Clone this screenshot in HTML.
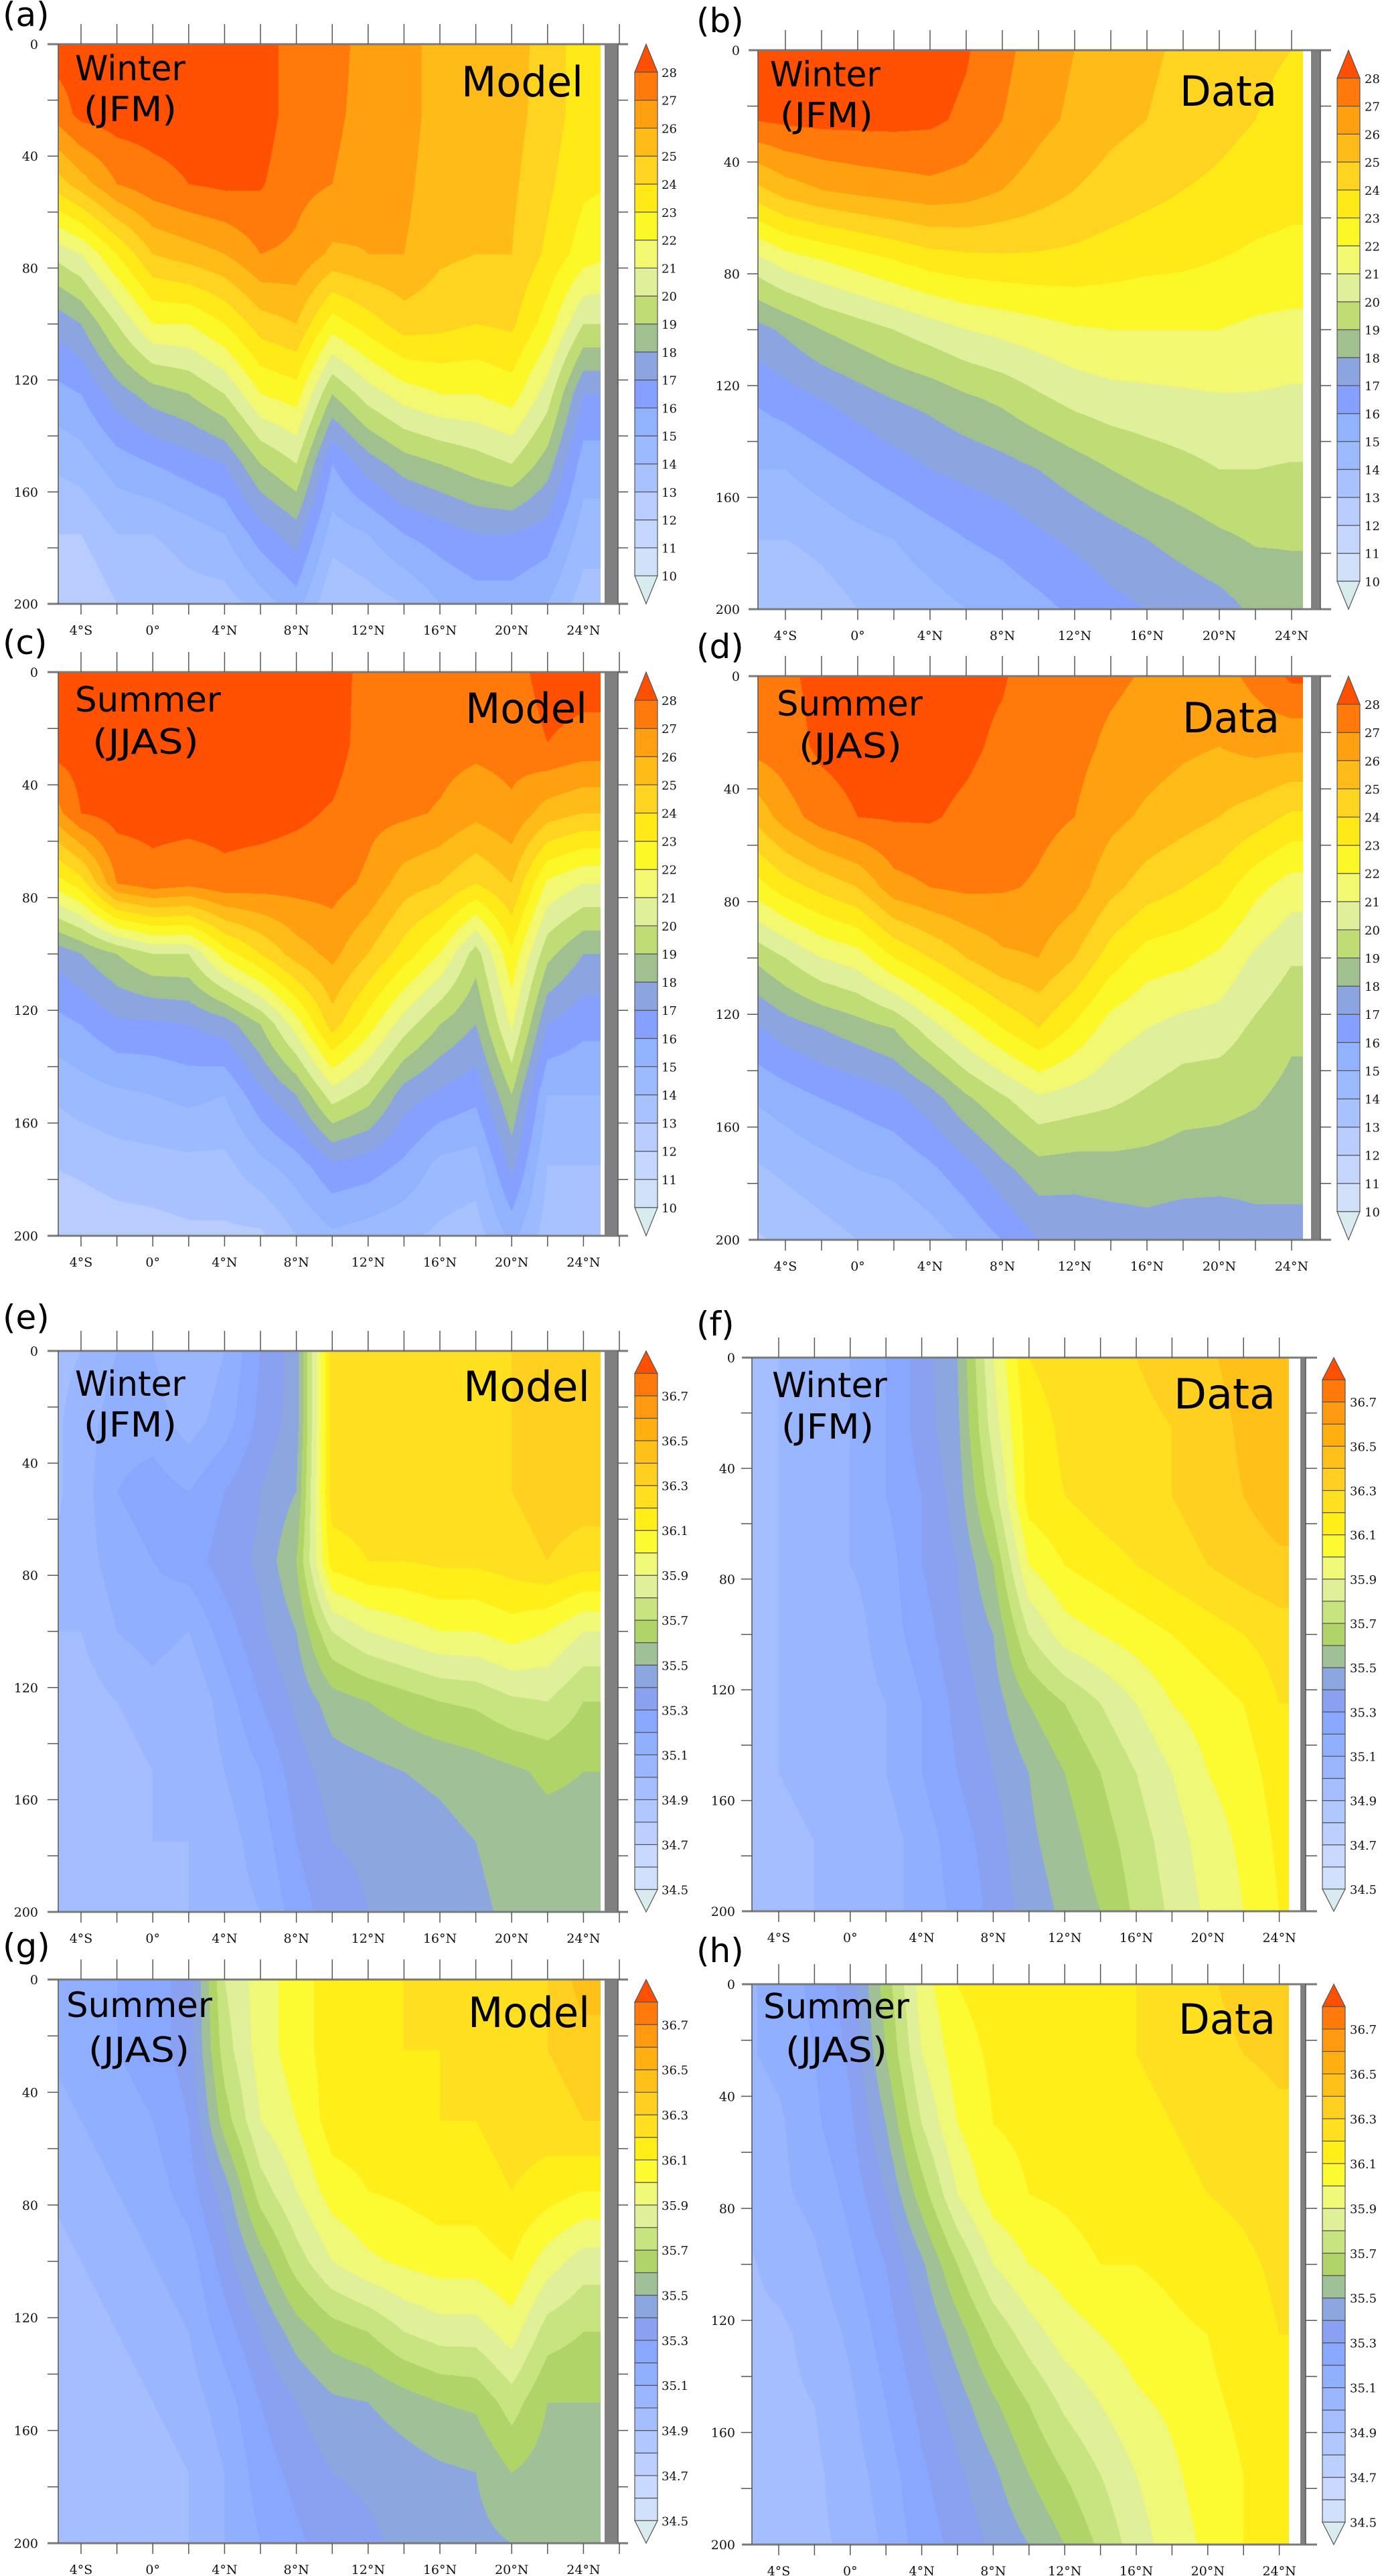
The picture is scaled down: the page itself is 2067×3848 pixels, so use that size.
<!DOCTYPE html>
<html><head><meta charset="utf-8"><title>Temperature and salinity sections</title>
<style>
html,body{margin:0;padding:0;background:#fff;}
#wrap{position:relative;width:2067px;height:3848px;overflow:hidden;background:#fff;}
canvas{position:absolute;}
#ov{position:absolute;left:0;top:0;}
</style></head>
<body>
<div id="wrap">
<svg id="ov" width="2067" height="3848" xmlns="http://www.w3.org/2000/svg"></svg>
</div>
<script>
// ===== data =====
const latNodes = [-6,-4,-2,0,2,4,6,8,10,12,14,16,18,20,22,24,26];
const depthNodes = [0,25,50,75,100,125,150,175,200];
const depthTicks = [0,40,80,120,160,200];
const latLabels = ["4°S","0°","4°N","8°N","12°N","16°N","20°N","24°N"];
const latLabelVals = [-4,0,4,8,12,16,20,24];
const tempLevels = [10,11,12,13,14,15,16,17,18,19,20,21,22,23,24,25,26,27,28];
const saltLabels = ["34.5","34.7","34.9","35.1","35.3","35.5","35.7","35.9","36.1","36.3","36.5","36.7"];
const tempPalette = ['#d8ecf0','#cfe0f8','#c4d6ff','#b8ccff','#a8c2ff','#9cbaff','#90b2ff','#86a0ff','#8ca4e0','#a0c090','#c0dc74','#e0f09a','#f2f870','#fcf828','#ffea18','#ffd420','#ffbc18','#ffa010','#ff7a0a','#ff4f00'];
const saltPalette = ['#d8ecf0','#d0e0fa','#c8d8ff','#bccfff','#b0c8ff','#a4beff','#9ab6ff','#90b0ff','#88a8ff','#8aa0f0','#8ca6e0','#a0c098','#b0d468','#c8e480','#e0f098','#f0f878','#fcfa30','#ffee18','#ffe020','#ffd020','#ffc018','#ffb010','#ff9a10','#ff7a0a','#ff4f00'];

// each row = one latitude node, values at depthNodes
const tempModelWinter = [
[28.5,27,24,20,17,15.5,14,13,12],
[28.5,28.3,25.5,21,18,16,14.5,13,12],
[28.5,28.5,27,23,20,17.5,15.5,14,13],
[28.5,28.5,27.6,25,22,18.5,16,14,13],
[28.5,28.5,28,25.5,22,19,16.5,14.5,13.5],
[28.5,28.5,28.2,26,23,20,17,15,13.5],
[28.5,28.5,28.1,27,24.5,22,19,16.5,14.5],
[27.5,27.5,27.3,26.8,25,22.5,20,17.5,15.5],
[27.5,27.3,27,25.8,22.5,19,16,14.5,13],
[26.5,26.5,26.3,26,23.5,20.5,17.5,15,13.5],
[26.5,26.5,26.3,26,24.5,21.5,18.5,16,14],
[25.5,25.5,25.3,25.2,24.3,22,19,16.5,15],
[25.5,25.5,25.3,25,24,22,19.5,17,15.5],
[25.5,25.4,25.2,25,24.2,22.5,20,17,15.5],
[24.5,24.5,24.2,23.8,22.5,20.5,18.5,16.5,15],
[23.5,23.5,23.2,22.5,20,17,15.5,14.5,13.5],
[23.5,23.5,23,22,20,17,15.5,14.5,13.5]];
const tempDataWinter = [
[28.5,28,24.5,20.5,17.5,16,15,14,13],
[28.5,28.2,25.5,21.5,18.2,16.5,15,14,13],
[28.5,28.3,26,22,19,17,15.5,14.3,13.5],
[28.5,28.3,26.3,22.5,19.5,17.5,16,14.7,14],
[28.5,28.3,26.5,23,20,18,16.5,15,14.3],
[28.5,28.2,26.7,23.5,20.5,18.3,17,15.5,14.6],
[28.1,27.8,26.5,23.7,21,18.8,17.3,16,15],
[27.3,27,26,23.8,21.3,19.2,17.6,16.3,15.3],
[26.5,26.3,25.5,23.8,21.6,19.8,18,16.8,15.7],
[26,25.8,25,23.7,21.9,20.3,18.5,17.2,16.2],
[25.5,25.3,24.6,23.5,22,20.6,19,17.6,16.7],
[25.2,25,24.3,23.3,22,20.7,19.4,18,17],
[24.8,24.6,24,23.2,22,20.8,19.7,18.4,17.3],
[24.5,24.3,23.8,23,22,20.9,20,18.8,17.6],
[24.2,24,23.5,22.8,21.8,20.9,20,19.1,18.2],
[24,23.7,23.3,22.7,21.7,20.8,19.9,19.1,18.5],
[24,23.7,23.3,22.7,21.7,20.8,19.9,19.1,18.5]];
const tempModelSummer = [
[28.5,28.5,26,22,17,15.5,14,13,12],
[28.5,28.5,28,23.5,18,16,14.5,13.2,12.3],
[28.5,28.5,28.4,27,19,16.8,14.8,13.5,12.5],
[28.5,28.5,28.4,27.6,20,16.8,15,13.6,12.6],
[28.5,28.5,28.4,27.3,20,17,15.3,13.7,12.8],
[28.5,28.5,28.4,27.7,22.5,17.5,15,13.7,12.8],
[28.5,28.5,28.4,27.5,24,19,16.7,14.7,12.8],
[28.5,28.5,28.2,27.4,25.5,21.5,18,15.5,14],
[28.5,28.5,27.9,27.4,26.3,24.5,20.5,16.8,14.8],
[27.6,27.5,27.3,26.8,25,22.5,19.5,16.5,14.5],
[27.6,27.5,27.2,25.5,23.5,20.5,17.5,15.8,14.2],
[27.6,27.4,26.9,25,22,19,16.8,14.7,13.8],
[27.6,27.3,26.3,24,19.5,18,16.3,14.5,13.5],
[27.6,27.4,26.8,25,22.8,21.2,19,17.3,15.3],
[28.4,28,25.5,21.8,19.3,17,15,14,13.5],
[28.4,27.7,25,21,18,16.3,15,14,13.5],
[28.4,27.7,25,21,18,16.3,15,14,13.5]];
const tempDataSummer = [
[27.6,27.3,25,22.3,19,16.7,15,13.8,12.8],
[27.8,27.6,26.5,23.5,20,17.5,15.5,14.2,13.2],
[28.3,28.2,27.5,24.3,21,18,16,14.6,13.6],
[28.5,28.4,28,25,21.5,18.5,16.3,15,14],
[28.5,28.4,28.1,26.6,23,19,16.7,15.2,14],
[28.5,28.4,28.1,27,24,20.5,17.5,15.8,14.5],
[28.3,28.2,27.8,27.2,25,21.8,18.8,16.6,15.2],
[28.1,27.8,27.5,27.1,25.8,23,19.8,17.7,16],
[27.5,27.3,27.2,26.9,26,24,20.8,18.6,17],
[27.4,27.3,27,26.5,25,22.8,20.5,18.5,17.1],
[27.2,26.8,26.3,25.3,23.5,21.5,20.2,18.6,17.3],
[26.9,26.5,25.8,24.5,22.5,21,19.8,18.6,17.5],
[26.7,26.2,25.4,24,22.3,20.6,19.4,18.5,17.3],
[26.6,26,25,23.5,21.8,20.5,19.3,18.5,17.2],
[27.3,26.3,24.5,22.3,20.8,19.8,19.1,18.4,17.6],
[28.2,26.2,23.8,21.5,20.1,19.2,18.7,18.3,17.7],
[28.2,26.2,23.8,21.5,20.1,19.2,18.7,18.3,17.7]];
const saltModelWinter = [
[34.95,34.95,34.95,35.0,35.0,34.95,34.9,34.9,34.9],
[35.0,35.05,35.05,35.05,35.0,34.95,34.95,34.9,34.9],
[35.1,35.15,35.2,35.15,35.1,35.0,34.95,34.95,34.95],
[35.1,35.15,35.25,35.2,35.15,35.05,35.0,35.0,34.95],
[35.0,35.05,35.2,35.25,35.1,35.0,35.0,35.0,35.0],
[35.1,35.15,35.3,35.35,35.25,35.15,35.1,35.05,35.05],
[35.3,35.33,35.4,35.42,35.38,35.3,35.2,35.15,35.1],
[35.45,35.45,35.5,35.6,35.5,35.42,35.35,35.3,35.25],
[36.25,36.25,36.25,36.15,35.8,35.55,35.45,35.4,35.35],
[36.25,36.25,36.25,36.2,35.9,35.6,35.47,35.42,35.4],
[36.25,36.25,36.25,36.2,35.95,35.65,35.5,35.45,35.42],
[36.25,36.25,36.25,36.22,36.0,35.7,35.52,35.47,35.45],
[36.25,36.25,36.25,36.22,36.0,35.72,35.55,35.5,35.48],
[36.3,36.3,36.3,36.25,36.05,35.78,35.58,35.54,35.52],
[36.35,36.35,36.35,36.3,36.0,35.8,35.62,35.56,35.53],
[36.35,36.35,36.35,36.25,35.9,35.7,35.6,35.56,35.53],
[36.35,36.35,36.35,36.25,35.9,35.7,35.6,35.56,35.53]];
const saltDataWinter = [
[34.95,34.95,34.95,34.95,34.95,34.95,34.95,34.95,34.95],
[35.0,35.0,35.0,35.0,35.0,35.0,35.0,34.95,34.95],
[35.05,35.05,35.05,35.05,35.05,35.05,35.05,35.0,35.0],
[35.1,35.1,35.1,35.1,35.05,35.05,35.05,35.05,35.0],
[35.2,35.2,35.2,35.15,35.15,35.1,35.1,35.05,35.05],
[35.35,35.35,35.3,35.3,35.25,35.2,35.2,35.15,35.15],
[35.5,35.48,35.45,35.4,35.38,35.33,35.3,35.25,35.22],
[35.9,35.85,35.75,35.6,35.5,35.45,35.4,35.35,35.33],
[36.2,36.15,36.15,36.0,35.8,35.6,35.5,35.48,35.45],
[36.25,36.22,36.2,36.1,35.95,35.7,35.6,35.55,35.52],
[36.28,36.25,36.25,36.15,36.0,35.8,35.7,35.65,35.6],
[36.3,36.28,36.28,36.2,36.05,35.9,35.8,35.75,35.72],
[36.33,36.3,36.3,36.25,36.1,36.0,35.9,35.85,35.82],
[36.38,36.35,36.35,36.3,36.15,36.05,36.0,35.95,35.92],
[36.45,36.42,36.4,36.35,36.2,36.1,36.05,36.02,36.0],
[36.5,36.45,36.45,36.38,36.25,36.2,36.15,36.12,36.1],
[36.5,36.45,36.45,36.38,36.25,36.2,36.15,36.12,36.1]];
const saltModelSummer = [
[35.1,35.1,35.05,35.0,34.95,34.9,34.9,34.9,34.9],
[35.15,35.15,35.1,35.05,35.0,34.95,34.95,34.9,34.9],
[35.2,35.2,35.15,35.1,35.05,35.0,34.95,34.95,34.95],
[35.25,35.25,35.2,35.15,35.1,35.05,35.0,34.95,34.95],
[35.35,35.35,35.3,35.25,35.15,35.1,35.05,35.0,35.0],
[35.8,35.75,35.65,35.45,35.35,35.25,35.15,35.1,35.1],
[35.95,35.95,35.9,35.75,35.55,35.4,35.3,35.25,35.2],
[36.05,36.05,36.0,35.9,35.75,35.55,35.4,35.33,35.28],
[36.15,36.15,36.15,36.05,35.9,35.65,35.48,35.4,35.35],
[36.15,36.15,36.15,36.1,35.98,35.7,35.5,35.42,35.38],
[36.2,36.2,36.15,36.12,36.02,35.8,35.55,35.45,35.42],
[36.2,36.2,36.2,36.15,36.05,35.85,35.6,35.48,35.45],
[36.25,36.25,36.2,36.15,36.05,35.85,35.62,35.5,35.47],
[36.25,36.25,36.25,36.2,36.1,35.95,35.75,35.6,35.5],
[36.3,36.3,36.25,36.15,35.95,35.75,35.6,35.55,35.52],
[36.45,36.35,36.3,36.1,35.85,35.7,35.6,35.55,35.52],
[36.45,36.35,36.3,36.1,35.85,35.7,35.6,35.55,35.52]];
const saltDataSummer = [
[35.08,35.08,35.03,35.03,34.98,34.98,34.93,34.93,34.93],
[35.13,35.13,35.08,35.08,35.03,34.98,34.98,34.93,34.93],
[35.23,35.2,35.18,35.13,35.08,35.03,35.0,34.98,34.98],
[35.35,35.32,35.28,35.23,35.18,35.12,35.08,35.05,35.02],
[35.65,35.6,35.5,35.4,35.3,35.25,35.2,35.15,35.12],
[35.95,35.9,35.8,35.65,35.48,35.4,35.33,35.28,35.25],
[36.1,36.05,36.0,35.9,35.7,35.55,35.45,35.38,35.33],
[36.15,36.12,36.1,36.05,35.9,35.72,35.58,35.48,35.42],
[36.15,36.15,36.12,36.1,36.0,35.85,35.7,35.6,35.5],
[36.18,36.15,36.15,36.12,36.05,35.95,35.82,35.7,35.6],
[36.2,36.18,36.15,36.15,36.1,36.0,35.9,35.8,35.72],
[36.2,36.2,36.18,36.15,36.1,36.05,35.98,35.9,35.85],
[36.25,36.22,36.2,36.18,36.12,36.08,36.02,35.98,35.95],
[36.28,36.25,36.22,36.2,36.15,36.1,36.08,36.05,36.02],
[36.35,36.3,36.25,36.22,36.18,36.15,36.12,36.1,36.1],
[36.38,36.32,36.28,36.25,36.22,36.2,36.18,36.15,36.15],
[36.38,36.32,36.28,36.25,36.22,36.2,36.18,36.15,36.15]];

// ===== layout =====
const L = {x0:87,x1:897,xc:121,ppd:26.8,strip0:903,strip1:923,axR:923,tickEnd:938,cb0:948,cb1:982,lab:988,topTicks:[-4,-2,0,2,4,6,8,10,12,14,16,18,20,22,24,26],labR:57,axL:71};
const RT = {x0:1132,x1:1946,xc:1173,ppd:27.0,strip0:1958,strip1:1972,axR:1972,tickEnd:1988,cb0:1997,cb1:2031,lab:2038,topTicks:[-4,-2,0,2,4,6,8,10,12,14,16,18,20,22,24],labR:1105,axL:1118};
const RS = {x0:1123,x1:1925,xc:1163,ppd:26.7,strip0:1942,strip1:1950,axR:1950,tickEnd:1967,cb0:1975,cb1:2009,lab:2016,topTicks:[-4,-2,0,2,4,6,8,10,12,14,16,18,20,22,24],labR:1098,axL:1108};
const panels = [
 {id:'a',g:L, y0:66,y1:902,kind:'T',data:tempModelWinter,s1:'Winter',s2:'(JFM)',src:'Model',t1:[112,54,165],t2:[125,115,139],t3:[871,78,182]},
 {id:'b',g:RT,y0:75,y1:910,kind:'T',data:tempDataWinter,s1:'Winter',s2:'(JFM)',src:'Data',t1:[1150,54,165],t2:[1165,115,139],t3:[1907,83,145]},
 {id:'c',g:L, y0:1004,y1:1846,kind:'T',data:tempModelSummer,s1:'Summer',s2:'(JJAS)',src:'Model',t1:[112,59,218],t2:[138,122,159],t3:[877,76,182]},
 {id:'d',g:RT,y0:1010,y1:1852,kind:'T',data:tempDataSummer,s1:'Summer',s2:'(JJAS)',src:'Data',t1:[1160,59,218],t2:[1193,122,154],t3:[1911,84,145]},
 {id:'e',g:L, y0:2018,y1:2856,kind:'S',data:saltModelWinter,s1:'Winter',s2:'(JFM)',src:'Model',t1:[112,67,165],t2:[125,128,139],t3:[881,75,189]},
 {id:'f',g:RS,y0:2028,y1:2855,kind:'S',data:saltDataWinter,s1:'Winter',s2:'(JFM)',src:'Data',t1:[1153,59,172],t2:[1167,121,138],t3:[1905,76,152]},
 {id:'g',g:L, y0:2957,y1:3799,kind:'S',data:saltModelSummer,s1:'Summer',s2:'(JJAS)',src:'Model',t1:[99,56,218],t2:[132,123,151],t3:[881,71,182]},
 {id:'h',g:RS,y0:2964,y1:3801,kind:'S',data:saltDataSummer,s1:'Summer',s2:'(JJAS)',src:'Data',t1:[1140,51,218],t2:[1173,116,152],t3:[1905,74,145]}
];

const NS='http://www.w3.org/2000/svg';
const svg=document.getElementById('ov');
const wrap=document.getElementById('wrap');
function mk(tag,attrs,parent){const e=document.createElementNS(NS,tag);for(const k in attrs)e.setAttribute(k,attrs[k]);(parent||svg).appendChild(e);return e;}
function hex(c){return [parseInt(c.substr(1,2),16),parseInt(c.substr(3,2),16),parseInt(c.substr(5,2),16)];}

function sample(data,lat,dep){
  let i=(lat-latNodes[0])/2; i=Math.max(0,Math.min(latNodes.length-1.0001,i));
  let j=dep/25; j=Math.max(0,Math.min(depthNodes.length-1.0001,j));
  const i0=Math.floor(i),j0=Math.floor(j),fi=i-i0,fj=j-j0;
  const a=data[i0][j0],b=data[i0+1][j0],c=data[i0][j0+1],d=data[i0+1][j0+1];
  return (a*(1-fi)+b*fi)*(1-fj)+(c*(1-fi)+d*fi)*fj;
}
function binT(v){if(v<10)return 0;return Math.min(19,Math.floor(v-10)+1);}
function binS(v){if(v<34.5)return 0;return Math.min(24,Math.floor((v-34.5)/0.1+1e-6)+1);}

panels.forEach(p=>{
  const g=p.g, w=g.x1-g.x0, h=p.y1-p.y0;
  const pal=(p.kind==='T'?tempPalette:saltPalette).map(hex);
  const cv=document.createElement('canvas');
  cv.width=w;cv.height=h;cv.style.left=g.x0+'px';cv.style.top=p.y0+'px';
  
  
  wrap.insertBefore(cv,svg);
  const ctx=cv.getContext('2d');const img=ctx.createImageData(w,h);
  const lat0=(g.x0-g.xc)/g.ppd-4, lat1=(g.x1-g.xc)/g.ppd-4;
  for(let y=0;y<h;y++){const dep=(y+0.5)/h*200;
    for(let x=0;x<w;x++){const lat=lat0+(x+0.5)/w*(lat1-lat0);
      const v=sample(p.data,lat,dep);
      const k=p.kind==='T'?binT(v):binS(v);const c=pal[k];const o=(y*w+x)*4;
      img.data[o]=c[0];img.data[o+1]=c[1];img.data[o+2]=c[2];img.data[o+3]=255;}}
  ctx.putImageData(img,0,0);

  const grp=mk('g',{});
  
  
  const yOf=d=>p.y0+d/200*(p.y1-p.y0);
  const xOf=lat=>g.xc+(lat+4)*g.ppd;
  const st=mk('rect',{x:g.strip0,y:p.y0,width:g.strip1-g.strip0,height:p.y1-p.y0,fill:'#808080'},grp);
  
  
  const ax=mk('g',{stroke:'#7a7a7a','stroke-width':3,fill:'none'},grp);
  
  
  mk('line',{x1:g.axL,y1:p.y0,x2:g.tickEnd,y2:p.y0},ax);
  mk('line',{x1:g.axL,y1:p.y1,x2:g.tickEnd,y2:p.y1},ax);
  mk('line',{x1:g.x0,y1:p.y0,x2:g.x0,y2:p.y1,'stroke-width':1.5,stroke:'#555'},ax);
  mk('line',{x1:g.axR,y1:p.y0,x2:g.axR,y2:p.y1,'stroke-width':1.5,stroke:'#555'},ax);
  const tk=mk('g',{stroke:'#555','stroke-width':1.5},grp);
  
  
  g.topTicks.forEach(lat=>{const x=xOf(lat);
    mk('line',{x1:x,y1:p.y0-30,x2:x,y2:p.y0},tk);
    mk('line',{x1:x,y1:p.y1,x2:x,y2:p.y1+16},tk);});
  for(let d=20;d<200;d+=20){const y=yOf(d);
    mk('line',{x1:g.x0-16,y1:y,x2:g.x0,y2:y},tk);
    mk('line',{x1:g.axR,y1:y,x2:g.tickEnd,y2:y},tk);}
  depthTicks.forEach(d=>{
    const t=mk('text',{x:g.labR,y:yOf(d)+7,'text-anchor':'end','font-family':'DejaVu Serif, serif','font-size':19,fill:'#111'},grp);
    t.textContent=String(d);
    
    
  });
  latLabelVals.forEach((lat,i)=>{
    const t=mk('text',{x:xOf(lat),y:p.y1+46,'text-anchor':'middle','font-family':'DejaVu Serif, serif','font-size':19,fill:'#111'},grp);
    t.textContent=latLabels[i];
    
    
  });
  const pl=mk('text',{x:(g===L?4:1040),y:p.y0-(p.kind==='T'?27:33),'font-family':'DejaVu Sans, sans-serif','font-size':50,fill:'#000'},grp);
  pl.textContent='('+p.id+')';
  
  
  const a1=mk('text',{x:p.t1[0],y:p.y0+p.t1[1],'font-family':'DejaVu Sans, sans-serif','font-size':52,fill:'#000',textLength:p.t1[2],lengthAdjust:'spacingAndGlyphs'},grp);
  a1.textContent=p.s1;
  
  
  const a2=mk('text',{x:p.t2[0],y:p.y0+p.t2[1],'font-family':'DejaVu Sans, sans-serif','font-size':52,fill:'#000',textLength:p.t2[2],lengthAdjust:'spacingAndGlyphs'},grp);
  a2.textContent=p.s2;
  
  
  const a3=mk('text',{x:p.t3[0]-p.t3[2],y:p.y0+p.t3[1],'font-family':'DejaVu Sans, sans-serif','font-size':62,fill:'#000',textLength:p.t3[2],lengthAdjust:'spacingAndGlyphs'},grp);
  a3.textContent=p.src;
  
  
  const cpal=p.kind==='T'?tempPalette:saltPalette;
  const nb=cpal.length-2, bh=(p.y1-p.y0)/cpal.length, xl=g.cb0, xr=g.cb1, cx=(xl+xr)/2;
  const cb=mk('g',{stroke:'#555','stroke-width':1.2},grp);
  
  
  mk('polygon',{points:`${cx},${p.y0} ${xl},${p.y0+bh} ${xr},${p.y0+bh}`,fill:cpal[cpal.length-1]},cb);
  for(let i=0;i<nb;i++){mk('rect',{x:xl,y:p.y1-bh*(i+2),width:xr-xl,height:bh,fill:cpal[i+1]},cb);}
  mk('polygon',{points:`${xl},${p.y1-bh} ${xr},${p.y1-bh} ${cx},${p.y1}`,fill:cpal[0]},cb);
  if(p.kind==='T'){
    tempLevels.forEach((v,k)=>{
      const t=mk('text',{x:g.lab,y:p.y1-bh*(1+k)+7,'font-family':'DejaVu Serif, serif','font-size':18,fill:'#111'},grp);
      t.textContent=String(v);
      
      
    });
  } else {
    saltLabels.forEach((v,k)=>{
      const t=mk('text',{x:g.lab,y:p.y1-bh*(1+2*k)+7,'font-family':'DejaVu Serif, serif','font-size':18,fill:'#111'},grp);
      t.textContent=v;
      
      
    });
  }
});
</script>
</body></html>
